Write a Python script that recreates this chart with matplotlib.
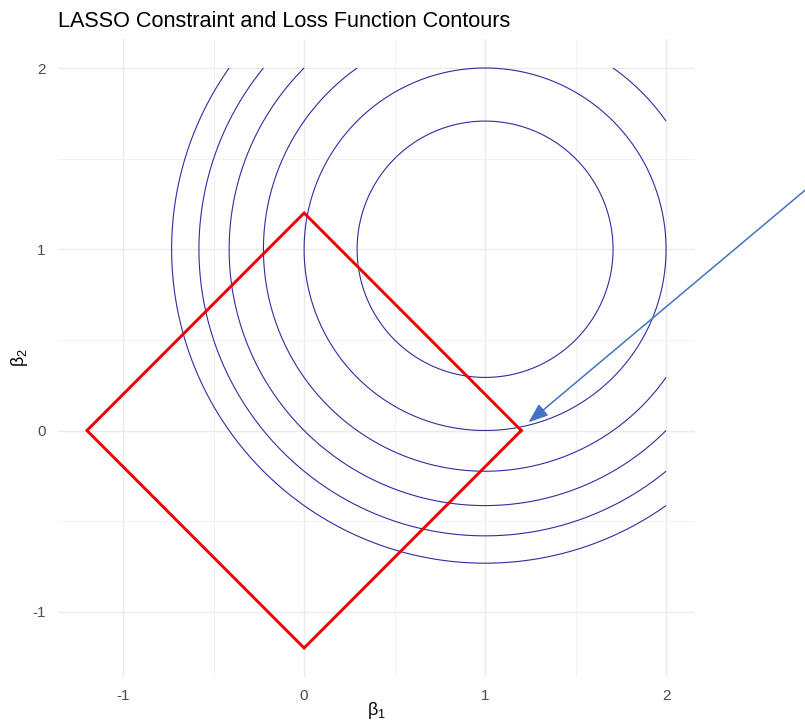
import matplotlib

matplotlib.use("Agg")

import matplotlib.pyplot as plt
import numpy as np

plt.rcParams["font.family"] = ["Liberation Sans", "DejaVu Sans"]
plt.rcParams["axes.unicode_minus"] = False

# loss centre and contour levels of (b1 - c1)^2 + (b2 - c2)^2
center = (1.0, 1.0)
levels = [0.5, 1.0, 1.5, 2.0, 2.5, 3.0]
# lasso budget |b1| + |b2| <= t
t = 1.2
diamond_x = [t, 0, -t, 0, t]
diamond_y = [0, t, 0, -t, 0]
grid_lo, grid_hi = -1.2, 2.0
# annotation arrow
arrow_tail = (3.0, 1.52)
arrow_head = (1.24, 0.045)

fig = plt.figure(figsize=(8.05, 7.23), dpi=100)
ax = fig.add_axes([58 / 805, 46 / 723, 637 / 805, 638 / 723])

b = np.linspace(grid_lo, grid_hi, 600)
B1, B2 = np.meshgrid(b, b)
Z = (B1 - center[0]) ** 2 + (B2 - center[1]) ** 2
ax.contour(B1, B2, Z, levels=levels, colors="#2e2ea0", linewidths=0.8)

ax.plot(diamond_x, diamond_y, color="#ee0000", lw=2.1, solid_joinstyle="miter")

ax.annotate(
    "",
    xy=arrow_head,
    xytext=arrow_tail,
    arrowprops=dict(arrowstyle="-|>,head_length=1.2,head_width=0.45",
                    color="#4473c5", lw=1.1, shrinkA=0, shrinkB=0),
    annotation_clip=False,
)

pad = 0.05 * (grid_hi - grid_lo)
ax.set_xlim(grid_lo - pad, grid_hi + pad)
ax.set_ylim(grid_lo - pad, grid_hi + pad)
ax.set_xticks([-1, 0, 1, 2])
ax.set_yticks([-1, 0, 1, 2])
ax.set_xticks([-0.5, 0.5, 1.5], minor=True)
ax.set_yticks([-0.5, 0.5, 1.5], minor=True)
ax.grid(True, which="major", color="#ebebeb", lw=1.0)
ax.grid(True, which="minor", color="#f2f2f2", lw=0.7)
ax.set_axisbelow(True)
for s in ax.spines.values():
    s.set_visible(False)
ax.tick_params(which="both", length=0, labelsize=11, labelcolor="#4d4d4d", pad=9)
ax.tick_params(which="minor", labelbottom=False, labelleft=False)

ax.set_xlabel(r"$\mathregular{\beta_1}$", fontsize=13, labelpad=1)
ax.set_ylabel(r"$\mathregular{\beta_2}$", fontsize=13, labelpad=0)
ax.xaxis.set_label_coords(0.5, -0.036)
ax.yaxis.set_label_coords(-0.044, 0.5)

fig.text(58 / 805, 1 - 27 / 723, "LASSO Constraint and Loss Function Contours",
         fontsize=15.6, ha="left", va="baseline")

fig.savefig("out.png", dpi=100)
